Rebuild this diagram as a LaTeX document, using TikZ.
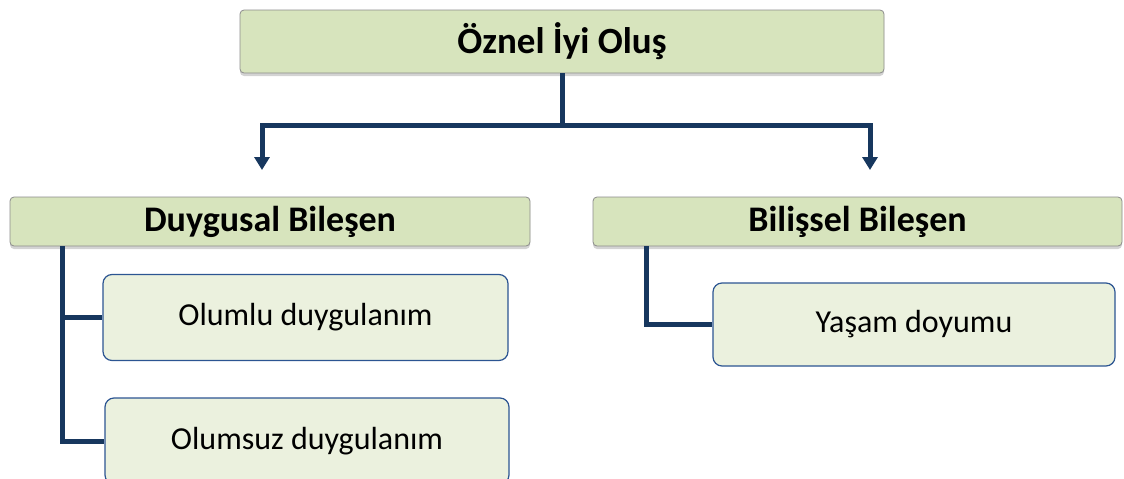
\documentclass[tikz,border=0pt]{standalone}
\usepackage{fontspec}
\setmainfont{Carlito}
\usetikzlibrary{arrows.meta,shadows,calc}
\definecolor{hdrfill}{HTML}{D7E4BD}
\definecolor{hdrline}{HTML}{8C8C8C}
\definecolor{kidfill}{HTML}{EBF1DE}
\definecolor{kidline}{HTML}{2C5592}
\definecolor{conn}{HTML}{17375E}
\tikzset{
  hdr/.style={draw=hdrline, line width=0.8pt, fill=hdrfill, rounded corners=4pt,
    drop shadow={shadow xshift=0pt, shadow yshift=-3pt, opacity=0.35},
    font=\bfseries, inner sep=0pt},
  kid/.style={draw=kidline, line width=1.2pt, fill=kidfill, rounded corners=9pt, inner sep=0pt},
  link/.style={draw=conn, line width=5pt},
  arr/.style={link, -{Triangle[width=15pt,length=13pt]}}
}
\begin{document}
\begin{tikzpicture}[x=1pt,y=-1pt]
\useasboundingbox (0,0) rectangle (1124,479);
\node[hdr, minimum width=644pt, minimum height=63pt, font=\bfseries\fontsize{37}{44}\selectfont] (top) at (562,41.5) {Öznel İyi Oluş};
\node[hdr, minimum width=520pt, minimum height=49pt, font=\bfseries\fontsize{36}{43}\selectfont] (duy) at (270,221.5) {Duygusal Bileşen};
\node[hdr, minimum width=529pt, minimum height=49pt, font=\bfseries\fontsize{36}{43}\selectfont] (bil) at (857.5,221.5) {Bilişsel Bileşen};
\node[kid, minimum width=405pt, minimum height=86pt, font=\fontsize{32}{38}\selectfont] (olp) at (305.5,317.5) {Olumlu duygulanım};
\node[kid, minimum width=404pt, minimum height=86pt, font=\fontsize{32}{38}\selectfont] (oln) at (307,441) {Olumsuz duygulanım};
\node[kid, minimum width=402pt, minimum height=83pt, font=\fontsize{32}{38}\selectfont] (yas) at (914,324.5) {Yaşam doyumu};
\coordinate (a1) at (262,170);
\coordinate (a2) at (870,170);
\draw[arr] (top.south) -- (top.south |- 0,125) -| (a1);
\draw[arr] (top.south) -- (top.south |- 0,125) -| (a2);
\draw[link] (duy.south -| 62,0) |- (olp.west);
\draw[link] (duy.south -| 62,0) |- (oln.west);
\draw[link] (bil.south -| 646,0) |- (yas.west);
\end{tikzpicture}
\end{document}
